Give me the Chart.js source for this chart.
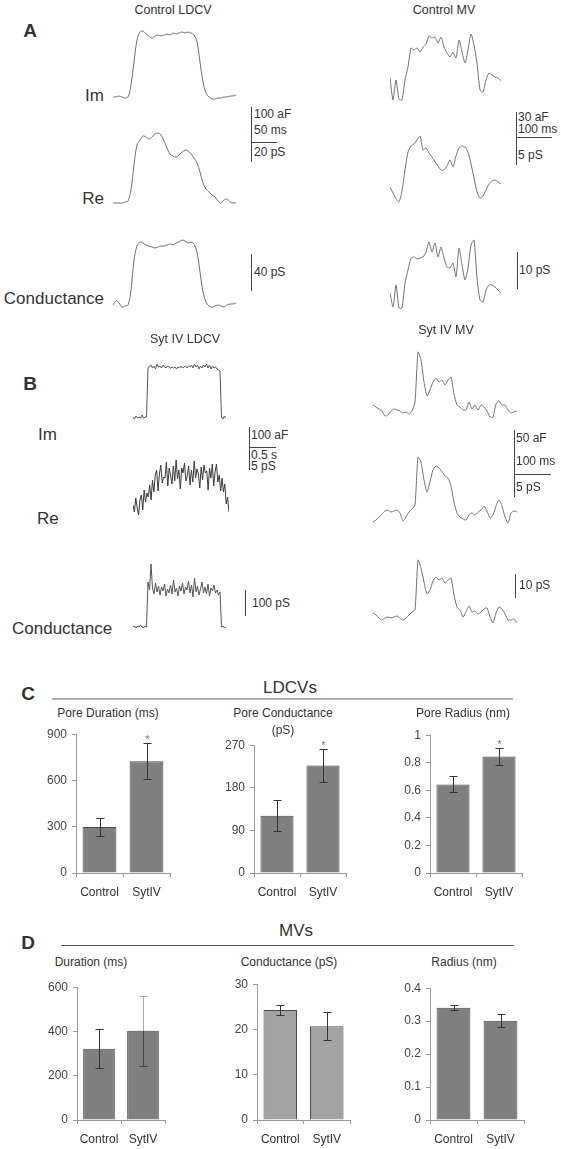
<!DOCTYPE html>
<html>
<head>
<meta charset="utf-8">
<script src="https://cdn.jsdelivr.net/npm/chart.js@4.4.1/dist/chart.umd.min.js"></script>
<style>
  body { margin: 0; background: #fff; width: 561px; height: 1149px; position: relative; overflow: hidden;
         font-family: "Liberation Sans", Arial, sans-serif; color: #333; }
  .t { position: absolute; white-space: nowrap; line-height: 1; z-index: 2; }
  .ln { position: absolute; z-index: 2; }
</style>
</head>
<body>
<script>
// ---- traces (heights above baseline, evenly sampled) ----
// Control LDCV
const ctrlLdcvIm = [3,3,4,3,2,3,15,38,60,68,69,66,64,62,64,65,64,65,66,65,67,66,67,68,67,68,67,65,58,38,18,7,3,1,1,2,2,3,3,4,4,5];
const ctrlLdcvRe = [2,2,2,2,3,4,15,40,60,65,69,68,66,68,71,72,70,64,57,51,49,48,50,53,55,54,51,47,42,33,22,16,13,10,8,4,2,5,6,3,2,2];
const ctrlLdcvG  = [4,8,6,2,3,4,19,49,63,67,66,64,63,62,61,62,63,63,64,65,64,66,67,69,68,66,67,65,57,37,17,7,3,2,3,4,3,2,4,5,5,6];
// Control MV
const ctrlMvIm = [24,2,22,3,2,22,35,54,52,54,50,55,58,66,64,65,59,65,55,49,45,50,44,62,50,39,52,68,57,39,12,10,22,29,27,25,24,21];
const ctrlMvRe = [19,13,7,4,15,36,54,60,62,66,70,56,58,53,49,44,40,36,36,40,46,39,50,58,60,59,54,42,28,14,8,10,16,22,25,26,24,22];
const ctrlMvG  = [17,3,25,2,2,27,40,52,53,51,52,53,58,68,58,67,53,63,52,43,42,47,33,62,45,30,42,65,70,32,10,8,20,25,25,23,20,17];
// Syt IV LDCV
const sytLdcvIm = [4,2,5,3,4,3,6,3,4,4,53,55,56,53,55,52,57,54,55,53,56,54,53,55,54,53,54,53,54,52,54,53,55,53,54,55,53,55,54,56,53,57,54,56,52,55,53,56,54,57,53,56,52,55,53,54,52,51,50,4,2,5,3];
const sytLdcvRe = [17,10,24,14,7,22,27,12,32,20,29,25,37,22,42,30,47,52,31,48,57,39,45,44,60,36,54,47,38,56,41,62,43,52,33,54,49,59,41,46,56,37,52,40,61,44,53,48,34,55,42,57,49,51,32,54,44,58,36,50,58,40,47,31,44,30,38,18,25,10];
const sytLdcvG  = [3,4,2,4,3,5,3,2,4,3,48,40,66,42,36,47,38,44,35,43,39,46,34,41,37,45,36,50,38,42,34,44,39,47,36,43,40,49,37,45,33,52,38,44,35,41,48,37,43,36,46,34,42,39,45,37,40,35,38,3,4,2,3];
// Syt IV MV
const sytMvIm = [15,13,11,9,4,5,9,11,10,9,7,8,6,9,18,68,60,38,24,30,38,42,38,40,35,40,43,26,15,13,10,10,18,11,15,10,15,13,9,3,3,16,19,15,15,10,7,8,9];
const sytMvRe = [4,6,9,12,15,16,14,15,16,13,5,9,14,17,21,69,64,46,34,44,56,60,58,54,50,48,40,24,13,9,7,6,11,13,11,14,16,20,15,8,11,20,26,20,9,3,13,15,14];
const sytMvG  = [13,11,8,6,8,9,8,9,10,8,6,8,11,14,16,66,58,44,32,36,45,49,46,48,43,46,48,31,19,16,9,14,20,14,15,12,14,17,18,9,3,13,19,17,12,6,6,7,3];

// ---- bar panels ----
const groups = ['Control', 'SytIV'];
const ldcvDuration = [298, 725],   ldcvDurationErr = [58, 115],   ldcvDurationTicks = [0, 300, 600, 900];
const ldcvConductance = [121, 227], ldcvConductanceErr = [33, 35], ldcvConductanceTicks = [0, 90, 180, 270];
const ldcvRadius = [0.643, 0.845], ldcvRadiusErr = [0.058, 0.063], ldcvRadiusTicks = [0, 0.2, 0.4, 0.6, 0.8, 1];
const mvDuration = [322, 403],     mvDurationErr = [88, 158],     mvDurationTicks = [0, 200, 400, 600];
const mvConductance = [24.3, 20.7], mvConductanceErr = [1.1, 3.1], mvConductanceTicks = [0, 10, 20, 30];
const mvRadius = [0.341, 0.301],   mvRadiusErr = [0.008, 0.02],   mvRadiusTicks = [0, 0.1, 0.2, 0.3, 0.4];

Chart.defaults.font.family = '"Liberation Sans", Arial, sans-serif';
Chart.defaults.color = '#333';

function canvas(x, y, w, h) {
  const c = document.createElement('canvas');
  c.width = w; c.height = h;
  c.style.cssText = 'position:absolute;left:' + x + 'px;top:' + y + 'px;width:' + w + 'px;height:' + h + 'px';
  document.body.appendChild(c);
  return c;
}

function text(s, x, y, size, align, bold) {
  const d = document.createElement('div');
  d.className = 't';
  d.textContent = s;
  d.style.left = x + 'px';
  d.style.top = y + 'px';
  d.style.fontSize = size + 'px';
  const tx = align === 'l' ? '0' : align === 'r' ? '-100%' : '-50%';
  d.style.transform = 'translate(' + tx + ',-50%)';
  if (bold) d.style.fontWeight = 'bold';
  document.body.appendChild(d);
}

function line(x1, y1, x2, y2, color, w) {
  const d = document.createElement('div');
  d.className = 'ln';
  w = w || 1;
  if (y1 === y2) {
    d.style.cssText += 'left:' + x1 + 'px;top:' + (y1 - w / 2) + 'px;width:' + (x2 - x1) + 'px;height:' + w + 'px;';
  } else {
    d.style.cssText += 'left:' + (x1 - w / 2) + 'px;top:' + y1 + 'px;width:' + w + 'px;height:' + (y2 - y1) + 'px;';
  }
  d.style.background = color || '#444';
  document.body.appendChild(d);
}

// one recording trace, baseline at pixel row `base`
function trace(vals, x0, x1, base, opt) {
  opt = opt || {};
  const h = 80;
  const c = canvas(x0, base - h - 2, x1 - x0, h + 4);
  new Chart(c, {
    type: 'line',
    data: {
      labels: vals.map((v, i) => i),
      datasets: [{
        data: vals, borderColor: opt.color || '#707070', borderWidth: opt.width || 1,
        pointRadius: 0, tension: opt.tension || 0, fill: false
      }]
    },
    options: {
      responsive: false, animation: false, events: [],
      layout: { padding: 0 },
      plugins: { legend: { display: false }, tooltip: { enabled: false } },
      scales: {
        x: { display: false },
        y: { display: false, min: -2, max: h + 2 }
      }
    }
  });
}

const errorBars = {
  id: 'errbars',
  afterDatasetsDraw(chart, args, o) {
    const ctx = chart.ctx, y = chart.scales.y;
    const ds = chart.data.datasets[0];
    chart.getDatasetMeta(0).data.forEach((bar, i) => {
      const v = ds.data[i], e = o.errs[i];
      const x = Math.round(bar.x) + 0.5;
      const top = Math.round(y.getPixelForValue(v + e)) + 0.5;
      const bot = Math.round(y.getPixelForValue(v - e)) + 0.5;
      const mid = y.getPixelForValue(v);
      ctx.save();
      ctx.lineWidth = 1;
      if (o.light && o.light[i]) {
        ctx.strokeStyle = '#a8a8a8';
        ctx.beginPath(); ctx.moveTo(x, top); ctx.lineTo(x, mid);
        ctx.moveTo(x - 4, top); ctx.lineTo(x + 4, top); ctx.stroke();
        ctx.strokeStyle = '#444';
        ctx.beginPath(); ctx.moveTo(x, mid); ctx.lineTo(x, bot);
        ctx.moveTo(x - 4, bot); ctx.lineTo(x + 4, bot); ctx.stroke();
      } else {
        ctx.strokeStyle = '#333';
        ctx.beginPath();
        ctx.moveTo(x, top); ctx.lineTo(x, bot);
        ctx.moveTo(x - 4, top); ctx.lineTo(x + 4, top);
        ctx.moveTo(x - 4, bot); ctx.lineTo(x + 4, bot);
        ctx.stroke();
      }
      if (o.stars && o.stars[i]) {
        ctx.fillStyle = '#777';
        ctx.font = '11px "Liberation Sans", Arial, sans-serif';
        ctx.textAlign = 'center';
        ctx.textBaseline = 'alphabetic';
        ctx.fillText('*', x, top - 1);
      }
      ctx.restore();
    });
  }
};

// area = chart area [left, top, right, bottom] in page pixels
function barPanel(area, vals, errs, ticks, fill, extra) {
  extra = extra || {};
  const padL = 40, padT = 8, padR = 6, xh = 30;
  const [x0, y0, x1, y1] = area;
  const c = canvas(x0 - padL, y0 - padT, x1 - x0 + padL + padR, y1 - y0 + padT + xh);
  new Chart(c, {
    type: 'bar',
    data: {
      labels: groups,
      datasets: [{
        data: vals, backgroundColor: fill, borderColor: '#4a4a4a', borderWidth: 1,
        borderSkipped: 'bottom', categoryPercentage: 1, barPercentage: 0.72
      }]
    },
    options: {
      responsive: false, animation: false, events: [],
      layout: { padding: { top: padT, right: padR, left: 0, bottom: 0 } },
      plugins: {
        legend: { display: false }, tooltip: { enabled: false },
        errbars: { errs: errs, stars: extra.stars, light: extra.light }
      },
      scales: {
        x: {
          grid: { offset: true, drawOnChartArea: false, tickLength: 4, color: '#9a9a9a' },
          border: { color: '#9a9a9a' },
          ticks: { padding: 8, font: { size: 12 }, color: '#333', maxRotation: 0, minRotation: 0, autoSkip: false },
          afterFit: s => { s.height = xh; }
        },
        y: {
          min: 0, max: ticks[ticks.length - 1],
          afterBuildTicks: s => { s.ticks = ticks.map(v => ({ value: v })); },
          grid: { drawOnChartArea: false, tickLength: 4, color: '#9a9a9a' },
          border: { color: '#9a9a9a' },
          ticks: { padding: 5, font: { size: 12 }, color: '#444', callback: v => String(v) },
          afterFit: s => { s.width = padL; }
        }
      }
    },
    plugins: [errorBars]
  });
}

// ---------- panel A ----------
text('A', 30, 30, 19, 'c', true);
text('Control LDCV', 173, 10, 12.5);
text('Control MV', 444, 10, 12.5);
text('Im', 104, 95, 17, 'r');
text('Re', 104, 198, 17, 'r');
text('Conductance', 104, 298, 17, 'r');

trace(ctrlLdcvIm, 113, 236, 100, { tension: 0.35 });
trace(ctrlLdcvRe, 113, 236, 205, { tension: 0.35 });
trace(ctrlLdcvG, 113, 236, 309, { tension: 0.35 });
trace(ctrlMvIm, 390, 501, 102, { tension: 0.2 });
trace(ctrlMvRe, 390, 501, 206, { tension: 0.2 });
trace(ctrlMvG, 390, 501, 310, { tension: 0.2 });

// scale bars A
line(251, 107, 251, 162);
line(251, 142, 277, 142);
text('100 aF', 254, 114, 12, 'l');
text('50 ms', 254, 130, 12, 'l');
text('20 pS', 254, 152, 12, 'l');
line(251, 254, 251, 291);
text('40 pS', 254, 272, 12, 'l');

line(516, 112, 516, 165);
line(516, 137, 552, 137);
text('30 aF', 518, 117, 12, 'l');
text('100 ms', 518, 129, 12, 'l');
text('5 pS', 518, 155, 12, 'l');
line(517, 252, 517, 289);
text('10 pS', 519, 270, 12, 'l');

// ---------- panel B ----------
text('B', 30, 383, 19, 'c', true);
text('Syt IV LDCV', 185, 339, 12.5);
text('Syt IV MV', 446, 330, 12.5);
text('Im', 38, 434, 17, 'l');
text('Re', 37, 518, 17, 'l');
text('Conductance', 12, 628, 17, 'l');

trace(sytLdcvIm, 133, 226, 421, { color: '#555' });
trace(sytLdcvRe, 133, 229, 522, { color: '#3a3a3a' });
trace(sytLdcvG, 133, 226, 630, { color: '#555' });
trace(sytMvIm, 373, 517, 420, { tension: 0.2 });
trace(sytMvRe, 373, 517, 526, { tension: 0.2 });
trace(sytMvG, 373, 517, 626, { tension: 0.2 });

line(249, 427, 249, 470);
line(249, 447, 276, 447);
text('100 aF', 251, 435, 12, 'l');
text('0.5 s', 251, 455, 12, 'l');
text('5 pS', 251, 466, 12, 'l');
line(245, 590, 245, 616);
text('100 pS', 252, 603, 12, 'l');

line(514, 430, 514, 497);
line(514, 474, 551, 474);
text('50 aF', 516, 438, 12, 'l');
text('100 ms', 516, 461, 12, 'l');
text('5 pS', 516, 487, 12, 'l');
line(515, 574, 515, 598);
text('10 pS', 519, 585, 12, 'l');

// ---------- panel C ----------
text('C', 28, 693, 19, 'c', true);
text('LDCVs', 290, 687, 17);
line(52, 699, 513, 699, '#b0b0b0', 2);
text('Pore Duration (ms)', 108, 713, 12);
text('Pore Conductance', 283, 713, 12);
text('(pS)', 283, 730, 12);
text('Pore Radius (nm)', 463, 713, 12);
barPanel([76, 730, 170, 873], ldcvDuration, ldcvDurationErr, ldcvDurationTicks, '#7f7f7f', { stars: [false, true] });
barPanel([254, 741, 346, 873], ldcvConductance, ldcvConductanceErr, ldcvConductanceTicks, '#7f7f7f', { stars: [false, true] });
barPanel([430, 731, 522, 873], ldcvRadius, ldcvRadiusErr, ldcvRadiusTicks, '#7f7f7f', { stars: [false, true] });

// ---------- panel D ----------
text('D', 28, 942, 19, 'c', true);
text('MVs', 296, 930, 17);
line(61, 945, 514, 945, '#555', 1);
text('Duration (ms)', 91, 962, 12);
text('Conductance (pS)', 289, 962, 12);
text('Radius (nm)', 464, 962, 12);
barPanel([77, 983, 165, 1120], mvDuration, mvDurationErr, mvDurationTicks, '#7f7f7f', { light: [false, true] });
barPanel([257, 980, 350, 1120], mvConductance, mvConductanceErr, mvConductanceTicks, '#a3a3a3');
barPanel([430, 984, 524, 1120], mvRadius, mvRadiusErr, mvRadiusTicks, '#7f7f7f');
</script>
</body>
</html>
